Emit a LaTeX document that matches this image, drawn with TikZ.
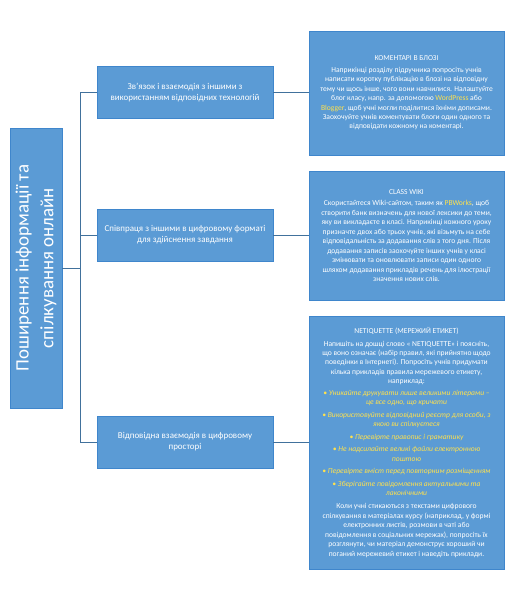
\documentclass[tikz,border=0pt]{standalone}
\usepackage{fontspec}
\setmainfont{Carlito}
\definecolor{boxfill}{HTML}{5B9BD5}
\definecolor{boxline}{HTML}{3F86CC}
\definecolor{connc}{HTML}{41719C}
\definecolor{yel}{HTML}{FFE14D}
\begin{document}
\begin{tikzpicture}[x=1bp,y=-1bp,
  box/.style={draw=boxline, fill=boxfill, line width=0.8bp, text=white, align=center, inner sep=0pt, outer sep=0pt},
  midbox/.style={box, minimum width=176bp, minimum height=52bp, font=\fontsize{9}{11}\selectfont},
  rbox/.style={box, minimum width=195bp, font=\fontsize{7.6}{9.5}\selectfont},
  conn/.style={draw=connc, line width=0.8bp}]
\useasboundingbox (0,0) rectangle (513,600);
\fill[white] (0,0) rectangle (513,600);
\coordinate (tx) at (80,0);

\node[box, rotate=90, minimum width=280bp, minimum height=52bp, font=\fontsize{19}{25}\selectfont] (root) at (36,268) {Поширення інформації та\\спілкування онлайн};

\node[midbox] (m1) at (185,92.5) {Зв’язок і взаємодія з іншими з\\використанням відповідних технологій};
\node[midbox] (m2) at (185,235) {Співпраця з іншими в цифровому форматі\\для здійснення завдання};
\node[midbox] (m3) at (185,442) {Відповідна взаємодія в цифровому\\просторі};

\node[rbox, minimum height=124bp] (r1) at (406.5,93) {КОМЕНТАРІ В БЛОЗІ\\[2bp]
Наприкінці розділу підручника попросіть учнів\\
написати коротку публікацію в блозі на відповідну\\
тему чи щось інше, чого вони навчилися. Налаштуйте\\
блог класу, напр. за допомогою \textcolor{yel}{WordPress} або\\
\textcolor{yel}{Blogger}, щоб учні могли поділитися їхніми дописами.\\
Заохочуйте учнів коментувати блоги один одного та\\
відповідати кожному на коментарі.};

\node[rbox, minimum height=129bp] (r2) at (406.5,235.5) {CLASS WIKI\\[2bp]
Скористайтеся Wiki-сайтом, таким як \textcolor{yel}{PBWorks}, щоб\\
створити банк визначень для нової лексики до теми,\\
яку ви викладаєте в класі. Наприкінці кожного уроку\\
призначте двох або трьох учнів, які візьмуть на себе\\
відповідальність за додавання слів з того дня. Після\\
додавання записів заохочуйте інших учнів у класі\\
змінювати та оновлювати записи один одного\\
шляхом додавання прикладів речень для ілюстрації\\
значення нових слів.};

\node[rbox, minimum height=253bp] (r3) at (406.5,442.5) {NETIQUETTE (МЕРЕЖИЙ ЕТИКЕТ)\\[3bp]
Напишіть на дошці слово « NETIQUETTE» і поясніть,\\
що воно означає (набір правил, які прийнятно щодо\\
поведінки в Інтернеті). Попросіть учнів придумати\\
кілька прикладів правила мережевого етикету,\\
наприклад:\\[2bp]
\textcolor{yel}{\itshape • Уникайте друкувати лише великими літерами –}\\
\textcolor{yel}{\itshape це все одно, що кричати}\\[3bp]
\textcolor{yel}{\itshape • Використовуйте відповідний реєстр для особи, з}\\
\textcolor{yel}{\itshape якою ви спілкуєтеся}\\[3bp]
\textcolor{yel}{\itshape • Перевірте правопис і граматику}\\[3bp]
\textcolor{yel}{\itshape • Не надсилайте великі файли електронною}\\
\textcolor{yel}{\itshape поштою}\\[3bp]
\textcolor{yel}{\itshape • Перевірте вміст перед повторним розміщенням}\\[3bp]
\textcolor{yel}{\itshape • Зберігайте повідомлення актуальними та}\\
\textcolor{yel}{\itshape лаконічними}\\[4bp]
Коли учні стикаються з текстами цифрового\\
спілкування в матеріалах курсу (наприклад, у формі\\
електронних листів, розмови в чаті або\\
повідомлення в соціальних мережах), попросіть їх\\
розглянути, чи матеріал демонструє хороший чи\\
поганий мережевий етикет і наведіть приклади.};

\draw[conn] (root.south) -- (root.south -| tx);
\draw[conn] (m1.west) -- (m1.west -| tx) |- (m3.west);
\draw[conn] (m2.west) -- (m2.west -| tx);
\draw[conn] (m1.east) -- (r1.west |- m1.east);
\draw[conn] (m2.east) -- (r2.west |- m2.east);
\draw[conn] (m3.east) -- (r3.west |- m3.east);
\end{tikzpicture}
\end{document}
